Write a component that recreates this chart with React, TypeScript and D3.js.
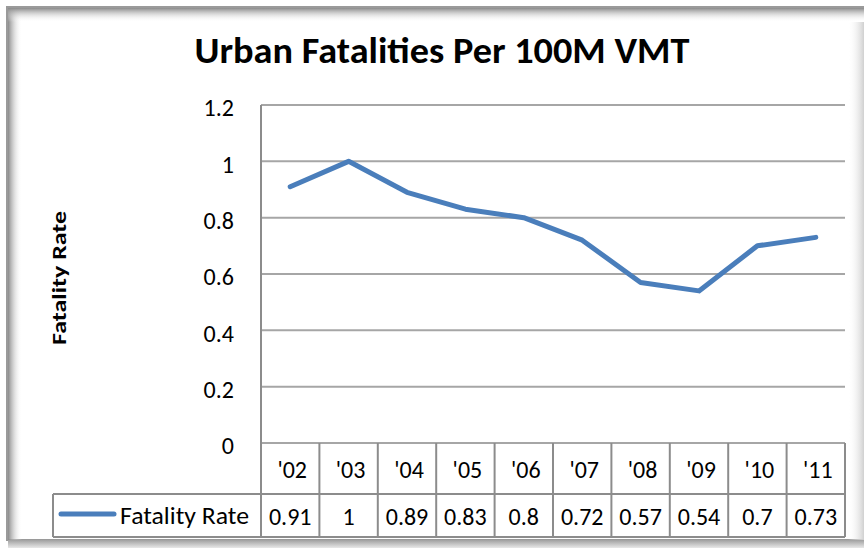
import React from "react";
import * as d3 from "d3";

const categories = ["'02", "'03", "'04", "'05", "'06", "'07", "'08", "'09", "'10", "'11"];
const values = [0.91, 1, 0.89, 0.83, 0.8, 0.72, 0.57, 0.54, 0.7, 0.73];
const valueLabels = ["0.91", "1", "0.89", "0.83", "0.8", "0.72", "0.57", "0.54", "0.7", "0.73"];
const yTicks = [0, 0.2, 0.4, 0.6, 0.8, 1, 1.2];
const seriesName = "Fatality Rate";
const title = "Urban Fatalities Per 100M VMT";
const yTitle = "Fatality Rate";

const W = 864, H = 548;
const FONT = "Carlito, Lato, 'Open Sans', sans-serif";

export default function App() {
  const left = 261, right = 845, top = 105, bottom = 443;
  const headerBottom = 494, tableBottom = 537, legendLeft = 53;
  const x = d3.scaleBand<string>().domain(categories).range([left, right]);
  const y = d3.scaleLinear().domain([0, 1.2]).range([bottom, top]);
  const line = d3.line<number>()
    .x((_, i) => (x(categories[i]) as number) + x.bandwidth() / 2)
    .y((d) => y(d));
  const grid = "#a6a6a6";
  const tableC = "#8c8c8c";
  return (
    <svg width={W} height={H} style={{ position: "absolute", left: 0, top: 0 }}>
      <defs>
        <linearGradient id="shL" x1="0" x2="1" y1="0" y2="0">
          <stop offset="0" stopColor="#8a8a8a" />
          <stop offset="1" stopColor="#ffffff" stopOpacity="0" />
        </linearGradient>
        <linearGradient id="shT" x1="0" x2="0" y1="0" y2="1">
          <stop offset="0" stopColor="#8a8a8a" />
          <stop offset="1" stopColor="#ffffff" stopOpacity="0" />
        </linearGradient>
        <linearGradient id="shB" x1="0" x2="0" y1="0" y2="1">
          <stop offset="0" stopColor="#a0a0a0" />
          <stop offset="1" stopColor="#e8e8e8" />
        </linearGradient>
        <linearGradient id="shR" x1="0" x2="1" y1="0" y2="0">
          <stop offset="0" stopColor="#ffffff" stopOpacity="0" />
          <stop offset="1" stopColor="#d0d0d0" />
        </linearGradient>
      </defs>
      <rect x={0} y={0} width={W} height={H} fill="#fff" />
      {/* frame */}
      <rect x={7} y={7} width={W} height={533} fill="#fff" stroke="#9a9a9a" strokeWidth={2} />
      <rect x={8} y={8} width={14} height={532} fill="url(#shL)" />
      <rect x={8} y={8} width={W} height={14} fill="url(#shT)" />
      <rect x={848} y={22} width={16} height={518} fill="url(#shR)" />
      <rect x={8} y={540} width={W} height={8} fill="url(#shB)" />

      <text x={442} y={63} textAnchor="middle" fontFamily={FONT} fontWeight="bold" fontSize={36}
        textLength={495} lengthAdjust="spacingAndGlyphs" fill="#000">
        {title}
      </text>

      {/* gridlines */}
      {yTicks.map((t) => (
        <line key={t} x1={left} x2={right} y1={y(t)} y2={y(t)} stroke={grid} strokeWidth={2} />
      ))}
      {yTicks.map((t) => (
        <text key={"l" + t} x={234} y={y(t) + 3} dy="0.35em" textAnchor="end" fontFamily={FONT} fontSize={24} fill="#000">
          {t === 0 || t === 1 ? String(t) : t.toFixed(1)}
        </text>
      ))}
      <text transform={`translate(66,${278}) rotate(-90)`} textAnchor="middle" fontFamily={FONT} fontWeight="bold" fontSize={21}
        textLength={134} lengthAdjust="spacingAndGlyphs" fill="#000">
        {yTitle}
      </text>

      {/* table */}
      <line x1={left} x2={left} y1={top} y2={tableBottom} stroke={tableC} strokeWidth={2} />
      {categories.map((c, i) => {
        const x0 = x(c) as number;
        const x1 = x0 + x.bandwidth();
        return (
          <g key={c}>
            <line x1={x1} x2={x1} y1={bottom} y2={tableBottom} stroke={tableC} strokeWidth={2} />
            <text x={x0 + x.bandwidth() / 2 + 2} y={470} dy="0.35em" textAnchor="middle" fontFamily={FONT} fontSize={24} fill="#000">
              {c}
            </text>
            <text x={x0 + x.bandwidth() / 2} y={517} dy="0.35em" textAnchor="middle" fontFamily={FONT} fontSize={24} fill="#000">
              {valueLabels[i]}
            </text>
          </g>
        );
      })}
      <line x1={legendLeft} x2={right} y1={headerBottom} y2={headerBottom} stroke={tableC} strokeWidth={2} />
      <line x1={legendLeft} x2={right} y1={tableBottom} y2={tableBottom} stroke={tableC} strokeWidth={2} />
      <line x1={legendLeft} x2={legendLeft} y1={headerBottom} y2={tableBottom} stroke={tableC} strokeWidth={2} />
      <line x1={61} x2={114} y1={514} y2={514} stroke="#4a7ebb" strokeWidth={5} strokeLinecap="round" />
      <text x={120} y={516} dy="0.35em" textAnchor="start" fontFamily={FONT} fontSize={24}
        textLength={129} lengthAdjust="spacingAndGlyphs" fill="#000">
        {seriesName}
      </text>

      <path d={line(values) as string} fill="none" stroke="#4a7ebb" strokeWidth={5} strokeLinejoin="round" strokeLinecap="round" />
    </svg>
  );
}
